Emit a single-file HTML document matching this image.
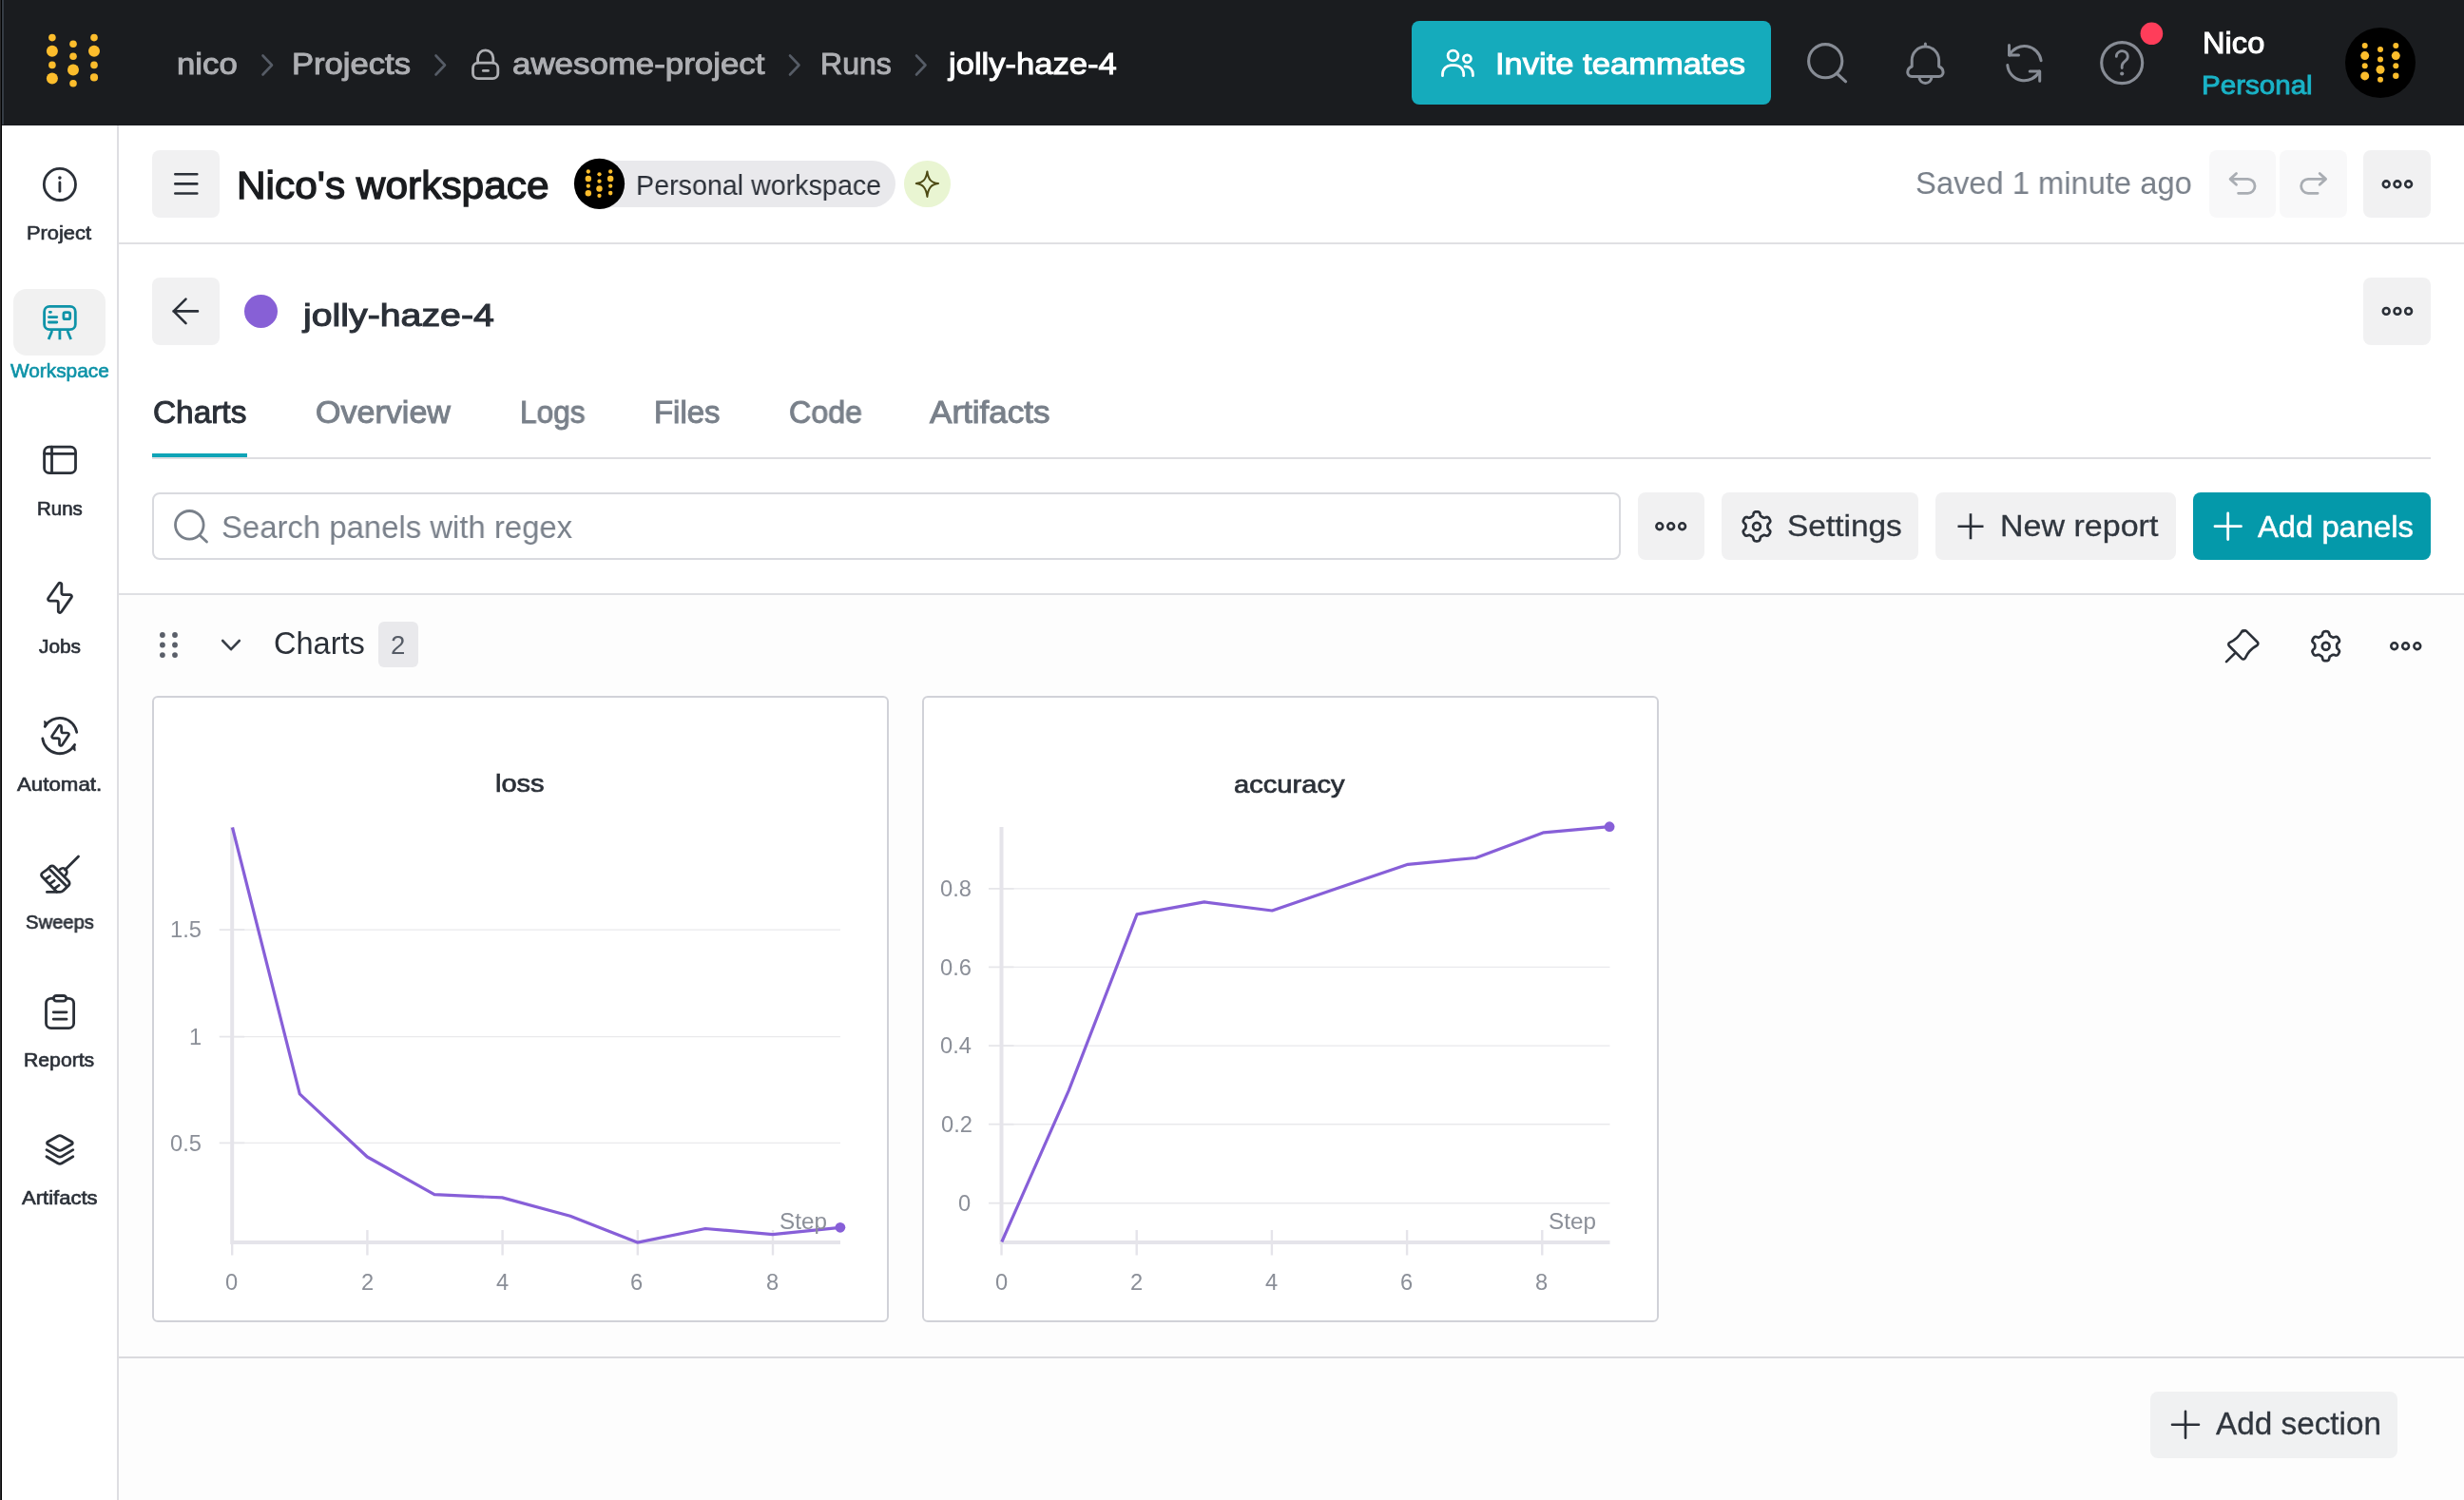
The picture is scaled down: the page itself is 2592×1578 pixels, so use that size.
<!DOCTYPE html>
<html lang="en">
<head>
<meta charset="utf-8">
<title>jolly-haze-4 | awesome-project – Weights &amp; Biases</title>
<style>
*{box-sizing:border-box;margin:0;padding:0}
html,body{width:2592px;height:1578px;overflow:hidden;background:#fff}
body{position:relative;font-family:"Liberation Sans",sans-serif;-webkit-font-smoothing:antialiased}
.a{position:absolute}
.t{position:absolute;white-space:nowrap;line-height:1;transform-origin:0 0;display:block;will-change:transform}
svg{position:absolute;overflow:visible}
.btn{position:absolute;background:#f1f1f2;border-radius:8px}
.ln{fill:none;stroke-linecap:round;stroke-linejoin:round}
</style>
</head>
<body>
<!-- ===== base layout ===== -->
<div class="a" style="left:0;top:0;width:2592px;height:132px;background:#1a1c1f"></div>
<div class="a" style="left:2px;top:0;width:2px;height:131px;background:#353c44"></div>
<div class="a" style="left:0;top:0;width:2px;height:1578px;background:#000"></div>
<div class="a" style="left:0;top:0;width:1px;height:1578px;background:#2b2b2d"></div>
<!-- sidebar border -->
<div class="a" style="left:123px;top:132px;width:2px;height:1446px;background:#dedee2"></div>
<!-- workspace header bottom border -->
<div class="a" style="left:125px;top:255px;width:2467px;height:2px;background:#e0e0e3"></div>
<!-- gray section area -->
<div class="a" style="left:125px;top:624px;width:2467px;height:954px;background:#fdfdfd"></div>
<div class="a" style="left:125px;top:624px;width:2467px;height:2px;background:#dfe0e4"></div>
<div class="a" style="left:125px;top:1427px;width:2467px;height:2px;background:#dadade"></div>

<!-- ===== NAV ===== -->
<svg width="2592" height="132" style="left:0;top:0" viewBox="0 0 2592 132">
<!-- logo -->
<g fill="#fcbd2c">
<circle cx="54.9" cy="39.6" r="3.8"/><circle cx="54.9" cy="53.8" r="6"/><circle cx="54.9" cy="68.4" r="3.8"/><circle cx="54.9" cy="82.6" r="6"/>
<circle cx="77" cy="46.3" r="3.8"/><circle cx="77" cy="59.2" r="3.8"/><circle cx="77" cy="73.4" r="6"/><circle cx="77" cy="87.7" r="3.8"/>
<circle cx="99" cy="39.6" r="3.8"/><circle cx="99" cy="53.8" r="6"/><circle cx="99" cy="68.4" r="3.8"/><circle cx="99" cy="81.4" r="4.1"/>
</g>
<!-- breadcrumb chevrons -->
<g class="ln" stroke="#565c66" stroke-width="2.6">
<path d="M276.5 58.5l9.5 10-9.5 10"/><path d="M458.5 58.5l9.5 10-9.5 10"/><path d="M831 58.5l9.5 10-9.5 10"/><path d="M964 58.5l9.5 10-9.5 10"/>
</g>
<!-- lock -->
<g class="ln" stroke="#aeafb3" stroke-width="2.8">
<rect x="497.5" y="66.2" width="26.3" height="16.5" rx="5.5"/>
<path d="M502.6 66V61a8.1 8.1 0 0 1 16.2 0v5"/>
<path d="M508.3 74.4h5.2"/>
</g>
<!-- invite button -->
<rect x="1485" y="22" width="378" height="88" rx="8" fill="#15abbc"/>
<g class="ln" stroke="#fff" stroke-width="2.8" stroke-linecap="butt">
<circle cx="1528.5" cy="58.5" r="5.4"/>
<path d="M1517.5 79.7V78a9.4 9.4 0 0 1 9.4-9.4h3.4a9.4 9.4 0 0 1 9.4 9.4v1.7"/>
<circle cx="1543.4" cy="61.8" r="4"/>
<path d="M1541 70h1.4a7 8 0 0 1 7 8v1.7"/>
</g>
<!-- search -->
<g class="ln" stroke="#878c95" stroke-width="3.1">
<circle cx="1920.2" cy="64.2" r="17.6"/><path d="M1933 78l8.6 7.8"/>
</g>
<!-- bell -->
<g class="ln" stroke="#878c95" stroke-width="3">
<path d="M2025.400 46v2.600"/>
<path d="M2011.2 70V63.3a14.2 14.2 0 0 1 28.4 0V70c2.5 1 4.5 3 4.5 6a4.5 4.5 0 0 1-4.5 4.5H2011.2a4.500 4.500 0 0 1-4.500-4.500c0-3 2-5 4.500-6z"/>
<path d="M2019 81.500a6.400 6 0 0 0 12.800 0"/>
</g>
<!-- refresh -->
<g class="ln" stroke="#878c95" stroke-width="3" stroke-linecap="butt" stroke-linejoin="miter">
<path d="M2113.5 47.500V58h10"/>
<path d="M2113.800 58A17.800 17.800 0 0 1 2147.100 63.700"/>
<path d="M2135.200 75h10.500v10.300"/>
<path d="M2145.400 75A17.800 17.800 0 0 1 2111.800 68.600"/>
</g>
<!-- help -->
<g class="ln" stroke="#878c95" stroke-width="3.1">
<circle cx="2232.200" cy="66.100" r="21.500"/>
<path d="M2226.300 59.400a6 5.600 0 1 1 9.600 4.400c-2.300 1.800-3.700 3-3.700 5.400v2.300" stroke-width="2.800"/>
</g>
<circle cx="2232.200" cy="77.500" r="2.100" fill="#878c95"/>
<circle cx="2263.400" cy="35.300" r="11.800" fill="#ff3d5a"/>
<!-- avatar -->
<circle cx="2504" cy="66" r="37" fill="#000"/>
<g transform="translate(2504 66)" fill="#fcbd2c"><circle cx="-16.3" cy="-17.9" r="3"/><circle cx="-16.3" cy="-7.4" r="4.5"/><circle cx="-16.3" cy="3.3" r="3"/><circle cx="-16.3" cy="13.9" r="4.5"/>
<circle cx="0" cy="-14" r="3"/><circle cx="0" cy="-3.6" r="3"/><circle cx="0" cy="7.3" r="4.5"/><circle cx="0" cy="17.7" r="3"/>
<circle cx="16.3" cy="-17.9" r="3"/><circle cx="16.3" cy="-7.4" r="4.5"/><circle cx="16.3" cy="3.3" r="3"/><circle cx="16.3" cy="13.7" r="3.2"/></g>
</svg>

<!-- ===== SIDEBAR ===== -->
<div class="a" style="left:14px;top:304px;width:97px;height:70px;background:#f1f1f1;border-radius:14px"></div>
<svg width="124" height="1446" style="left:0;top:132px" viewBox="0 132 124 1446">
<g class="ln" stroke="#2b3038" stroke-width="2.8">
<!-- project (info) -->
<circle cx="62.9" cy="193.9" r="16.6"/>
<path d="M62.9 191.900v9.400"/>
<!-- runs -->
<rect x="46.600" y="470.100" width="32.900" height="27.500" rx="5.200"/>
<path d="M54.500 470.100v27.500M46.600 477.300h32.900"/>
<!-- jobs bolt -->
<path d="M64.800 615.200V623.600a2 2 0 0 0 2 2H73.700a1.800 1.800 0 0 1 1.500 2.800L64.700 643.500a1.800 1.800 0 0 1-3.400-1V634.100a2 2 0 0 0-2-2H52.300a1.800 1.800 0 0 1-1.500-2.800L61.400 614.200a1.800 1.800 0 0 1 3.400 1z"/>
<!-- automations -->
<path d="M47.300 764.300A18.100 18.100 0 0 1 80.700 770.300"/>
<path d="M78.600 783.400A18.100 18.100 0 0 1 44.800 776.900"/>
<path d="M64.600 764.800v4.200a2 2 0 0 0 2 2h4.300a1.600 1.600 0 0 1 1.300 2.500l-6.800 10.300a1.600 1.600 0 0 1-2.900-0.900v-4.300a2 2 0 0 0-2-2h-4.300a1.600 1.600 0 0 1-1.300-2.500l6.800-10.200a1.600 1.600 0 0 1 2.900 0.900z" stroke-width="2.700"/>
<!-- sweeps -->
<path d="M82.500 901.100L68.500 914.900"/>
<path d="M63.300 914.500a3.400 3.400 0 0 1 5.700 6"/>
<path d="M52.800 911.700a3 3 0 0 1 4.200 0L72.200 926.900a3.200 3.200 0 0 1 0 4.500L66.500 937a4.800 4.800 0 0 1-3.400 1.400H49.400"/><path d="M59.800 938.200L44.300 922.300a2.700 2.700 0 0 1 0.500-4.200C48 916.200 50.300 914.300 52.900 911.600"/>
<path d="M52.700 915l16.800 16.700"/>
<path d="M48.300 924.600l4.200-2.900M53 929.300l4.200-2.900M57.900 934.400l4.200-3.200" stroke-width="2.700"/>
<!-- reports -->
<rect x="48.500" y="1050.300" width="29.100" height="31.300" rx="5.200"/>
<rect x="56.400" y="1047.500" width="13.300" height="5.600" rx="2.800" fill="#fff"/>
<path d="M56.200 1064.800h13.800M56.200 1072.200h13.800"/>
<!-- artifacts -->
<path d="M60.800 1195.200a4.200 4.200 0 0 1 4.200 0l10.600 6.100a1.400 1.400 0 0 1 0 2.400l-10.600 6.100a4.200 4.200 0 0 1-4.200 0l-10.600-6.100a1.400 1.400 0 0 1 0-2.400z"/>
<path d="M49 1209.600l11.800 7a4.200 4.200 0 0 0 4.200 0l11.800-7"/>
<path d="M49 1216.800l11.800 7a4.200 4.200 0 0 0 4.200 0l11.800-7"/>
</g>
<circle cx="62.900" cy="187.100" r="1.800" fill="#2b3038"/>
<path d="M46.900 758.800l0.500 5.900 2.400-3.300z" fill="#2b3038" stroke="#2b3038" stroke-width="1.500" stroke-linejoin="round"/>
<path d="M78.900 789.400l-0.500-5.900-2.400 3.300z" fill="#2b3038" stroke="#2b3038" stroke-width="1.500" stroke-linejoin="round"/>
<!-- workspace (active, teal) -->
<g class="ln" stroke="#0e93a8" stroke-width="2.800">
<rect x="46.600" y="322.400" width="32.700" height="24.300" rx="5.500"/>
<path d="M52.300 328.300h1.200M51.400 333.600h8.400M51.400 339h8.400"/>
<rect x="66.900" y="328.700" width="6.800" height="7" rx="1.800"/>
<path d="M54.800 348l-3.700 9M62.900 348v9.300M70.900 348l3.700 9" stroke-linecap="butt"/>
</g>
</svg>

<!-- ===== WORKSPACE HEADER ===== -->
<div class="btn" style="left:160px;top:158px;width:71px;height:71px"></div>
<div class="a" style="left:630px;top:169px;width:312px;height:49px;background:#e9e9ec;border-radius:0 24.500px 24.500px 0"></div>
<div class="a" style="left:951px;top:169px;width:48.500px;height:48.500px;background:#e9f5d2;border-radius:50%"></div>
<div class="btn" style="left:2324px;top:158px;width:70px;height:71px;background:#f8f8f9"></div>
<div class="btn" style="left:2398px;top:158px;width:71px;height:71px;background:#f8f8f9"></div>
<div class="btn" style="left:2486px;top:158px;width:71px;height:71px"></div>
<!-- run header -->
<div class="btn" style="left:160px;top:292px;width:71px;height:71px"></div>
<div class="btn" style="left:2486px;top:292px;width:71px;height:71px"></div>
<div class="a" style="left:257px;top:310px;width:35px;height:35px;background:#8760d6;border-radius:50%"></div>
<!-- tabs -->
<div class="a" style="left:160px;top:481px;width:2397px;height:2px;background:#dedee2"></div>
<div class="a" style="left:160px;top:477px;width:100px;height:4px;background:#10a4b7"></div>
<svg width="2467" height="360" style="left:125px;top:132px" viewBox="125 132 2467 360">
<g class="ln" stroke="#2b3038" stroke-width="2.600">
<!-- hamburger -->
<path d="M184.300 183.300h23M184.300 193.400h23M184.300 203.500h23"/>
<!-- back arrow -->
<path d="M208 327.400h-25.500M195.500 314.600l-12.800 12.800 12.800 12.800"/>
<!-- more dots (workspace header) -->
<circle cx="2510.200" cy="193.800" r="3.400"/><circle cx="2521.900" cy="193.800" r="3.400"/><circle cx="2533.600" cy="193.800" r="3.400"/>
<!-- more dots (run header) -->
<circle cx="2510.200" cy="327.400" r="3.400"/><circle cx="2521.900" cy="327.400" r="3.400"/><circle cx="2533.600" cy="327.400" r="3.400"/>
</g>
<!-- undo / redo -->
<g class="ln" stroke="#a9adb3" stroke-width="2.800">
<path d="M2352.500 182.500l-6.400 5.900 6.400 5.900M2346.300 188.400h18.300a7.450 7.450 0 0 1 0 14.900h-10"/>
<path d="M2440.200 182.500l6.400 5.900-6.400 5.900M2446.400 188.400h-18.300a7.450 7.450 0 0 0 0 14.900h10"/>
</g>
<!-- avatar -->
<circle cx="630.500" cy="193.300" r="26.600" fill="#000"/>
<g transform="translate(630.500 193.300) scale(0.716)" fill="#fcbd2c"><circle cx="-16.3" cy="-17.9" r="3"/><circle cx="-16.3" cy="-7.4" r="4.5"/><circle cx="-16.3" cy="3.3" r="3"/><circle cx="-16.3" cy="13.9" r="4.5"/>
<circle cx="0" cy="-14" r="3"/><circle cx="0" cy="-3.6" r="3"/><circle cx="0" cy="7.3" r="4.5"/><circle cx="0" cy="17.7" r="3"/>
<circle cx="16.3" cy="-17.9" r="3"/><circle cx="16.3" cy="-7.4" r="4.5"/><circle cx="16.3" cy="3.3" r="3"/><circle cx="16.3" cy="13.7" r="3.2"/></g>
<!-- star -->
<path class="ln" d="M975.400 180.400C976.400 189 979.600 192.100 987 193.100 979.600 194.200 976.400 197.300 975.400 206.900 974.200 197.300 971 194.200 963.800 193.100 971 192.100 974.200 189 975.400 180.400z" stroke="#4d4a14" stroke-width="2"/>
</svg>

<!--TOOLBAR--><!-- ===== TOOLBAR ===== -->
<div class="a" style="left:160px;top:518px;width:1545px;height:71px;border:2px solid #d9dadf;border-radius:8px;background:#fff"></div>
<div class="btn" style="left:1723px;top:518px;width:70px;height:71px"></div>
<div class="btn" style="left:1811px;top:518px;width:207px;height:71px"></div>
<div class="btn" style="left:2036px;top:518px;width:253px;height:71px"></div>
<div class="btn" style="left:2307px;top:518px;width:250px;height:71px;background:#0499aa"></div>
<svg width="2467" height="100" style="left:125px;top:505px" viewBox="125 505 2467 100">
<g class="ln" stroke="#79808a" stroke-width="2.800"><circle cx="199.300" cy="552.300" r="14.800"/><path d="M210.200 563.200l7.300 6.900"/></g>
<g class="ln" stroke="#2b3038" stroke-width="2.600">
<circle cx="1745.800" cy="553.700" r="3.400"/><circle cx="1757.700" cy="553.700" r="3.400"/><circle cx="1769.600" cy="553.700" r="3.400"/>
<path d="M2059.500 553.700h27M2073 540.200v27" stroke-linecap="butt"/>
</g>
<path class="ln" d="M2330 553.700h27.500M2343.700 540v27.500" stroke="#fff" stroke-width="2.800" stroke-linecap="butt"/>
<path class="ln" d="M1859.50 553.80L1859.50 553.40L1859.49 553.00L1859.50 552.59L1859.54 552.18L1859.68 551.74L1860.02 551.25L1860.65 550.65L1861.42 549.95L1861.99 549.25L1862.23 548.62L1862.23 548.05L1862.10 547.52L1861.91 547.02L1861.68 546.53L1861.42 546.05L1861.14 545.59L1860.83 545.15L1860.49 544.73L1860.09 544.35L1859.60 544.07L1858.93 543.96L1858.04 544.10L1857.06 544.42L1856.22 544.67L1855.62 544.72L1855.18 544.62L1854.80 544.44L1854.44 544.25L1854.10 544.04L1853.75 543.84L1853.40 543.64L1853.05 543.44L1852.70 543.24L1852.37 542.99L1852.06 542.66L1851.80 542.11L1851.59 541.27L1851.38 540.25L1851.06 539.41L1850.63 538.89L1850.14 538.60L1849.61 538.45L1849.08 538.36L1848.54 538.31L1848.00 538.30L1847.46 538.31L1846.92 538.36L1846.39 538.45L1845.86 538.60L1845.37 538.89L1844.94 539.41L1844.62 540.25L1844.41 541.27L1844.20 542.11L1843.94 542.66L1843.63 542.99L1843.30 543.24L1842.95 543.44L1842.60 543.64L1842.25 543.84L1841.90 544.04L1841.56 544.25L1841.20 544.44L1840.82 544.62L1840.38 544.72L1839.78 544.67L1838.94 544.42L1837.96 544.10L1837.07 543.96L1836.40 544.07L1835.91 544.35L1835.51 544.73L1835.17 545.15L1834.86 545.59L1834.58 546.05L1834.32 546.53L1834.09 547.02L1833.90 547.52L1833.77 548.05L1833.77 548.62L1834.01 549.25L1834.58 549.95L1835.35 550.65L1835.98 551.25L1836.32 551.74L1836.46 552.18L1836.50 552.59L1836.51 553.00L1836.50 553.40L1836.50 553.80L1836.50 554.20L1836.51 554.60L1836.50 555.01L1836.46 555.42L1836.32 555.86L1835.98 556.35L1835.35 556.95L1834.58 557.65L1834.01 558.35L1833.77 558.98L1833.77 559.55L1833.90 560.08L1834.09 560.58L1834.32 561.07L1834.58 561.55L1834.86 562.01L1835.17 562.45L1835.51 562.87L1835.91 563.25L1836.40 563.53L1837.07 563.64L1837.96 563.50L1838.94 563.18L1839.78 562.93L1840.38 562.88L1840.82 562.98L1841.20 563.16L1841.56 563.35L1841.90 563.56L1842.25 563.76L1842.60 563.96L1842.95 564.16L1843.30 564.36L1843.63 564.61L1843.94 564.94L1844.20 565.49L1844.41 566.33L1844.62 567.35L1844.94 568.19L1845.37 568.71L1845.86 569.00L1846.39 569.15L1846.92 569.24L1847.46 569.29L1848.00 569.30L1848.54 569.29L1849.08 569.24L1849.61 569.15L1850.14 569.00L1850.63 568.71L1851.06 568.19L1851.38 567.35L1851.59 566.33L1851.80 565.49L1852.06 564.94L1852.37 564.61L1852.70 564.36L1853.05 564.16L1853.40 563.96L1853.75 563.76L1854.10 563.56L1854.44 563.35L1854.80 563.16L1855.18 562.98L1855.62 562.88L1856.22 562.93L1857.06 563.18L1858.04 563.50L1858.93 563.64L1859.60 563.53L1860.09 563.25L1860.49 562.87L1860.83 562.45L1861.14 562.01L1861.42 561.55L1861.68 561.07L1861.91 560.58L1862.10 560.08L1862.23 559.55L1862.23 558.98L1861.99 558.35L1861.42 557.65L1860.65 556.95L1860.02 556.35L1859.68 555.86L1859.54 555.42L1859.50 555.01L1859.49 554.60L1859.50 554.20z" stroke="#2b3038" stroke-width="2.7"/><circle class="ln" cx="1848" cy="553.8" r="3.9" stroke="#2b3038" stroke-width="2.7"/>
</svg>
<!--/TOOLBAR-->
<!--SECTION--><!-- ===== SECTION HEADER ===== -->
<div class="a" style="left:398px;top:654px;width:42px;height:48px;background:#e9e9ec;border-radius:6px"></div>
<svg width="2467" height="100" style="left:125px;top:630px" viewBox="125 630 2467 100">
<g fill="#5a5f69"><circle cx="170.900" cy="668" r="2.900"/><circle cx="184" cy="668" r="2.900"/><circle cx="170.900" cy="678.500" r="2.900"/><circle cx="184" cy="678.500" r="2.900"/><circle cx="170.900" cy="689.100" r="2.900"/><circle cx="184" cy="689.100" r="2.900"/></g>
<g class="ln" stroke="#2b3038" stroke-width="2.600">
<path d="M234.200 674l8.800 9.200 8.800-9.200" stroke="#3a4049"/>
<circle cx="2518.700" cy="679.700" r="3.400"/><circle cx="2530.600" cy="679.700" r="3.400"/><circle cx="2542.800" cy="679.700" r="3.400"/>
<!-- pin -->
<path d="M2342 696.200l8.900-8.900"/>
<path d="M2360.200 664.200a2.200 2.200 0 0 1 3.100 0l11.400 11.300a2.200 2.200 0 0 1-0.500 3.500c-6 3.300-9.500 7-12.300 13.200a2.200 2.200 0 0 1-3.600 0.600l-13.300-13.300a2.200 2.200 0 0 1 0.600-3.600c6.200-2.800 9.900-6.300 13.200-12.300a2.200 2.200 0 0 1 1.400-0.400z"/>
</g>
<path class="ln" d="M2458.20 679.70L2458.20 679.30L2458.19 678.90L2458.20 678.49L2458.24 678.08L2458.38 677.64L2458.72 677.15L2459.35 676.55L2460.12 675.85L2460.69 675.15L2460.93 674.52L2460.93 673.95L2460.80 673.42L2460.61 672.92L2460.38 672.43L2460.12 671.95L2459.84 671.49L2459.53 671.05L2459.19 670.63L2458.79 670.25L2458.30 669.97L2457.63 669.86L2456.74 670.00L2455.76 670.32L2454.92 670.57L2454.32 670.62L2453.88 670.52L2453.50 670.34L2453.14 670.15L2452.80 669.94L2452.45 669.74L2452.10 669.54L2451.75 669.34L2451.40 669.14L2451.07 668.89L2450.76 668.56L2450.50 668.01L2450.29 667.17L2450.08 666.15L2449.76 665.31L2449.33 664.79L2448.84 664.50L2448.31 664.35L2447.78 664.26L2447.24 664.21L2446.70 664.20L2446.16 664.21L2445.62 664.26L2445.09 664.35L2444.56 664.50L2444.07 664.79L2443.64 665.31L2443.32 666.15L2443.11 667.17L2442.90 668.01L2442.64 668.56L2442.33 668.89L2442.00 669.14L2441.65 669.34L2441.30 669.54L2440.95 669.74L2440.60 669.94L2440.26 670.15L2439.90 670.34L2439.52 670.52L2439.08 670.62L2438.48 670.57L2437.64 670.32L2436.66 670.00L2435.77 669.86L2435.10 669.97L2434.61 670.25L2434.21 670.63L2433.87 671.05L2433.56 671.49L2433.28 671.95L2433.02 672.43L2432.79 672.92L2432.60 673.42L2432.47 673.95L2432.47 674.52L2432.71 675.15L2433.28 675.85L2434.05 676.55L2434.68 677.15L2435.02 677.64L2435.16 678.08L2435.20 678.49L2435.21 678.90L2435.20 679.30L2435.20 679.70L2435.20 680.10L2435.21 680.50L2435.20 680.91L2435.16 681.32L2435.02 681.76L2434.68 682.25L2434.05 682.85L2433.28 683.55L2432.71 684.25L2432.47 684.88L2432.47 685.45L2432.60 685.98L2432.79 686.48L2433.02 686.97L2433.28 687.45L2433.56 687.91L2433.87 688.35L2434.21 688.77L2434.61 689.15L2435.10 689.43L2435.77 689.54L2436.66 689.40L2437.64 689.08L2438.48 688.83L2439.08 688.78L2439.52 688.88L2439.90 689.06L2440.26 689.25L2440.60 689.46L2440.95 689.66L2441.30 689.86L2441.65 690.06L2442.00 690.26L2442.33 690.51L2442.64 690.84L2442.90 691.39L2443.11 692.23L2443.32 693.25L2443.64 694.09L2444.07 694.61L2444.56 694.90L2445.09 695.05L2445.62 695.14L2446.16 695.19L2446.70 695.20L2447.24 695.19L2447.78 695.14L2448.31 695.05L2448.84 694.90L2449.33 694.61L2449.76 694.09L2450.08 693.25L2450.29 692.23L2450.50 691.39L2450.76 690.84L2451.07 690.51L2451.40 690.26L2451.75 690.06L2452.10 689.86L2452.45 689.66L2452.80 689.46L2453.14 689.25L2453.50 689.06L2453.88 688.88L2454.32 688.78L2454.92 688.83L2455.76 689.08L2456.74 689.40L2457.63 689.54L2458.30 689.43L2458.79 689.15L2459.19 688.77L2459.53 688.35L2459.84 687.91L2460.12 687.45L2460.38 686.97L2460.61 686.48L2460.80 685.98L2460.93 685.45L2460.93 684.88L2460.69 684.25L2460.12 683.55L2459.35 682.85L2458.72 682.25L2458.38 681.76L2458.24 681.32L2458.20 680.91L2458.19 680.50L2458.20 680.10z" stroke="#2b3038" stroke-width="2.7"/><circle class="ln" cx="2446.7" cy="679.7" r="3.9" stroke="#2b3038" stroke-width="2.7"/>
</svg>
<!-- add section button -->
<div class="btn" style="left:2262px;top:1464px;width:260px;height:70px;background:#f0f1f2"></div>
<svg width="60" height="60" style="left:2270px;top:1470px" viewBox="2270 1470 60 60">
<path class="ln" d="M2285 1498.800h28M2299 1484.800v28" stroke="#2b3038" stroke-width="2.600" stroke-linecap="butt"/>
</svg>
<!--/SECTION-->
<!--CHARTS--><!-- ===== CHARTS ===== -->
<div class="a" style="left:160px;top:732px;width:775px;height:659px;border:2px solid #d1d2d8;border-radius:6px;background:#fff"></div>
<svg width="775" height="659" style="left:160px;top:732px" viewBox="160 732 775 659">
<path d="M244.2 978.1H884" stroke="#e9e9ec" stroke-width="1.400" fill="none"/><path d="M230.7 978.1H257.2" stroke="#e6e6ea" stroke-width="1.800" fill="none"/>
<path d="M244.2 1090.6H884" stroke="#e9e9ec" stroke-width="1.400" fill="none"/><path d="M230.7 1090.6H257.2" stroke="#e6e6ea" stroke-width="1.800" fill="none"/>
<path d="M244.2 1202.4H884" stroke="#e9e9ec" stroke-width="1.400" fill="none"/><path d="M230.7 1202.4H257.2" stroke="#e6e6ea" stroke-width="1.800" fill="none"/>
<path d="M244.2 870V1309M242.2 1307H884" stroke="#e5e4ea" stroke-width="4" fill="none"/>
<path d="M244.2 1294V1320.500" stroke="#e5e4ea" stroke-width="2.400" fill="none"/>
<path d="M386.4 1294V1320.500" stroke="#e5e4ea" stroke-width="2.400" fill="none"/>
<path d="M528.6 1294V1320.500" stroke="#e5e4ea" stroke-width="2.400" fill="none"/>
<path d="M670.8 1294V1320.500" stroke="#e5e4ea" stroke-width="2.400" fill="none"/>
<path d="M813.0 1294V1320.500" stroke="#e5e4ea" stroke-width="2.400" fill="none"/>
<polyline points="244.5,870.5 315.3,1150.8 386.3,1217.0 457.0,1256.7 528.3,1259.9 599.8,1279.3 670.5,1307.1 742.0,1292.5 812.8,1298.6 883.9,1291.3" fill="none" stroke="#875fd8" stroke-width="3.200" stroke-linejoin="round" stroke-linecap="butt"/>
<circle cx="883.9" cy="1291.3" r="5.400" fill="#875fd8"/>
</svg>
<div class="a" style="left:970px;top:732px;width:775px;height:659px;border:2px solid #d1d2d8;border-radius:6px;background:#fff"></div>
<svg width="775" height="659" style="left:970px;top:732px" viewBox="970 732 775 659">
<path d="M1053.5 934.9H1693.5" stroke="#e9e9ec" stroke-width="1.400" fill="none"/><path d="M1040.0 934.9H1066.5" stroke="#e6e6ea" stroke-width="1.800" fill="none"/>
<path d="M1053.5 1017.4H1693.5" stroke="#e9e9ec" stroke-width="1.400" fill="none"/><path d="M1040.0 1017.4H1066.5" stroke="#e6e6ea" stroke-width="1.800" fill="none"/>
<path d="M1053.5 1100.1H1693.5" stroke="#e9e9ec" stroke-width="1.400" fill="none"/><path d="M1040.0 1100.1H1066.5" stroke="#e6e6ea" stroke-width="1.800" fill="none"/>
<path d="M1053.5 1182.7H1693.5" stroke="#e9e9ec" stroke-width="1.400" fill="none"/><path d="M1040.0 1182.7H1066.5" stroke="#e6e6ea" stroke-width="1.800" fill="none"/>
<path d="M1053.5 1265.7H1693.5" stroke="#e9e9ec" stroke-width="1.400" fill="none"/><path d="M1040.0 1265.7H1066.5" stroke="#e6e6ea" stroke-width="1.800" fill="none"/>
<path d="M1053.5 870V1309M1051.5 1307H1693.5" stroke="#e5e4ea" stroke-width="4" fill="none"/>
<path d="M1053.5 1294V1320.500" stroke="#e5e4ea" stroke-width="2.400" fill="none"/>
<path d="M1195.7 1294V1320.500" stroke="#e5e4ea" stroke-width="2.400" fill="none"/>
<path d="M1337.9 1294V1320.500" stroke="#e5e4ea" stroke-width="2.400" fill="none"/>
<path d="M1480.1 1294V1320.500" stroke="#e5e4ea" stroke-width="2.400" fill="none"/>
<path d="M1622.3 1294V1320.500" stroke="#e5e4ea" stroke-width="2.400" fill="none"/>
<polyline points="1053.8,1306.5 1124.3,1147.1 1196.0,961.9 1266.8,948.9 1338.2,958.0 1409.6,933.6 1481.1,909.3 1552.5,902.5 1624.0,875.8 1693.1,869.7" fill="none" stroke="#875fd8" stroke-width="3.200" stroke-linejoin="round" stroke-linecap="butt"/>
<circle cx="1693.1" cy="869.7" r="5.400" fill="#875fd8"/>
</svg><!--/CHARTS-->
<span class="t" style="left:186.29px;top:52.30px;font-size:31.40px;color:#aeafb3;transform:scaleX(1.1069);-webkit-text-stroke:1.0px #aeafb3;">nico</span>
<span class="t" style="left:307.29px;top:52.30px;font-size:31.40px;color:#aeafb3;transform:scaleX(1.1026);-webkit-text-stroke:1.0px #aeafb3;">Projects</span>
<span class="t" style="left:539.39px;top:52.30px;font-size:31.40px;color:#aeafb3;transform:scaleX(1.1105);-webkit-text-stroke:1.0px #aeafb3;">awesome-project</span>
<span class="t" style="left:863.46px;top:52.30px;font-size:31.40px;color:#aeafb3;transform:scaleX(1.0205);-webkit-text-stroke:1.0px #aeafb3;">Runs</span>
<span class="t" style="left:998.00px;top:52.30px;font-size:31.40px;color:#fff;transform:scaleX(1.1014);-webkit-text-stroke:1.0px #fff;">jolly-haze-4</span>
<span class="t" style="left:1573.32px;top:51.66px;font-size:31.69px;color:#fff;transform:scaleX(1.0897);-webkit-text-stroke:1.0px #fff;">Invite teammates</span>
<span class="t" style="left:2317.22px;top:30.30px;font-size:31.40px;color:#fff;transform:scaleX(1.0395);-webkit-text-stroke:1.0px #fff;">Nico</span>
<span class="t" style="left:2316.45px;top:77.07px;font-size:26.86px;color:#1ab3c7;transform:scaleX(1.1005);-webkit-text-stroke:0.9px #1ab3c7;">Personal</span>
<span class="t" style="left:248.52px;top:175.18px;font-size:40.64px;color:#1a1c1f;transform:scaleX(1.0435);-webkit-text-stroke:1.3px #1a1c1f;">Nico's workspace</span>
<span class="t" style="left:668.90px;top:179.88px;font-size:30.23px;color:#2b3038;transform:scaleX(0.9484);">Personal workspace</span>
<span class="t" style="left:2014.90px;top:176.58px;font-size:32.85px;color:#79808a;transform:scaleX(0.9957);">Saved 1 minute ago</span>
<span class="t" style="left:318.90px;top:314.48px;font-size:34.04px;color:#2b3038;transform:scaleX(1.1546);-webkit-text-stroke:1.1px #2b3038;">jolly-haze-4</span>
<span class="t" style="left:160.87px;top:418.29px;font-size:32.41px;color:#2b3038;transform:scaleX(1.0303);-webkit-text-stroke:1.0px #2b3038;">Charts</span>
<span class="t" style="left:331.75px;top:418.29px;font-size:32.41px;color:#79808a;transform:scaleX(1.0509);-webkit-text-stroke:1.0px #79808a;">Overview</span>
<span class="t" style="left:547.05px;top:418.29px;font-size:32.41px;color:#79808a;transform:scaleX(0.9770);-webkit-text-stroke:1.0px #79808a;">Logs</span>
<span class="t" style="left:687.67px;top:418.29px;font-size:32.41px;color:#79808a;transform:scaleX(1.0148);-webkit-text-stroke:1.0px #79808a;">Files</span>
<span class="t" style="left:829.51px;top:418.29px;font-size:32.41px;color:#79808a;transform:scaleX(0.9927);-webkit-text-stroke:1.0px #79808a;">Code</span>
<span class="t" style="left:978.20px;top:418.29px;font-size:32.41px;color:#79808a;transform:scaleX(1.0818);-webkit-text-stroke:1.0px #79808a;">Artifacts</span>
<span class="t" style="left:233.42px;top:538.28px;font-size:33.43px;color:#79808a;transform:scaleX(0.9835);">Search panels with regex</span>
<span class="t" style="left:1880.21px;top:537.40px;font-size:32.21px;color:#30363e;transform:scaleX(1.0384);-webkit-text-stroke:0.3px #30363e;">Settings</span>
<span class="t" style="left:2104.44px;top:537.40px;font-size:32.21px;color:#30363e;transform:scaleX(1.0561);-webkit-text-stroke:0.3px #30363e;">New report</span>
<span class="t" style="left:2375.15px;top:537.51px;font-size:31.98px;color:#fff;transform:scaleX(1.0246);-webkit-text-stroke:0.5px #fff;">Add panels</span>
<span class="t" style="left:288.20px;top:661.22px;font-size:32.56px;color:#2b3038;transform:scaleX(0.9970);">Charts</span>
<span class="t" style="left:411.22px;top:665.19px;font-size:27.62px;color:#565c66;transform:scaleX(0.9846);">2</span>
<span class="t" style="left:521.04px;top:811.39px;font-size:26.22px;color:#2b3038;transform:scaleX(1.1073);-webkit-text-stroke:0.7px #2b3038;">loss</span>
<span class="t" style="left:1297.54px;top:812.39px;font-size:26.22px;color:#2b3038;transform:scaleX(1.1116);-webkit-text-stroke:0.7px #2b3038;">accuracy</span>
<span class="t" style="left:2330.55px;top:1482.25px;font-size:32.50px;color:#30363e;transform:scaleX(1.0247);-webkit-text-stroke:0.3px #30363e;">Add section</span>
<span class="t" style="left:27.96px;top:234.77px;font-size:20.47px;color:#2b3038;transform:scaleX(1.0679);-webkit-text-stroke:0.65px #2b3038;">Project</span>
<span class="t" style="left:10.92px;top:379.77px;font-size:20.47px;color:#0e93a8;transform:scaleX(1.0177);-webkit-text-stroke:0.65px #0e93a8;">Workspace</span>
<span class="t" style="left:38.64px;top:524.77px;font-size:20.47px;color:#2b3038;transform:scaleX(0.9899);-webkit-text-stroke:0.65px #2b3038;">Runs</span>
<span class="t" style="left:41.03px;top:669.77px;font-size:20.47px;color:#2b3038;transform:scaleX(1.0180);-webkit-text-stroke:0.65px #2b3038;">Jobs</span>
<span class="t" style="left:18.32px;top:814.77px;font-size:20.47px;color:#2b3038;transform:scaleX(1.0896);-webkit-text-stroke:0.65px #2b3038;">Automat.</span>
<span class="t" style="left:26.93px;top:959.77px;font-size:20.47px;color:#2b3038;transform:scaleX(0.9878);-webkit-text-stroke:0.65px #2b3038;">Sweeps</span>
<span class="t" style="left:25.09px;top:1104.77px;font-size:20.47px;color:#2b3038;transform:scaleX(1.0364);-webkit-text-stroke:0.65px #2b3038;">Reports</span>
<span class="t" style="left:22.62px;top:1249.77px;font-size:20.47px;color:#2b3038;transform:scaleX(1.0774);-webkit-text-stroke:0.65px #2b3038;">Artifacts</span>
<span class="t" style="left:179.04px;top:966.65px;font-size:23.69px;color:#8b8f98;transform:scaleX(1.0000);">1.5</span>
<span class="t" style="left:198.80px;top:1079.65px;font-size:23.69px;color:#8b8f98;transform:scaleX(1.0000);">1</span>
<span class="t" style="left:179.04px;top:1191.65px;font-size:23.69px;color:#8b8f98;transform:scaleX(1.0000);">0.5</span>
<span class="t" style="left:237.20px;top:1337.65px;font-size:23.69px;color:#8b8f98;transform:scaleX(1.0000);">0</span>
<span class="t" style="left:379.70px;top:1337.65px;font-size:23.69px;color:#8b8f98;transform:scaleX(1.0000);">2</span>
<span class="t" style="left:521.60px;top:1337.65px;font-size:23.69px;color:#8b8f98;transform:scaleX(1.0000);">4</span>
<span class="t" style="left:663.30px;top:1337.65px;font-size:23.69px;color:#8b8f98;transform:scaleX(1.0000);">6</span>
<span class="t" style="left:805.60px;top:1337.65px;font-size:23.69px;color:#8b8f98;transform:scaleX(1.0000);">8</span>
<span class="t" style="left:988.54px;top:923.65px;font-size:23.69px;color:#8b8f98;transform:scaleX(1.0000);">0.8</span>
<span class="t" style="left:988.54px;top:1006.65px;font-size:23.69px;color:#8b8f98;transform:scaleX(1.0000);">0.6</span>
<span class="t" style="left:988.54px;top:1088.65px;font-size:23.69px;color:#8b8f98;transform:scaleX(1.0000);">0.4</span>
<span class="t" style="left:989.54px;top:1171.65px;font-size:23.69px;color:#8b8f98;transform:scaleX(1.0000);">0.2</span>
<span class="t" style="left:1008.30px;top:1254.65px;font-size:23.69px;color:#8b8f98;transform:scaleX(1.0000);">0</span>
<span class="t" style="left:1047.00px;top:1337.65px;font-size:23.69px;color:#8b8f98;transform:scaleX(1.0000);">0</span>
<span class="t" style="left:1189.20px;top:1337.65px;font-size:23.69px;color:#8b8f98;transform:scaleX(1.0000);">2</span>
<span class="t" style="left:1331.40px;top:1337.65px;font-size:23.69px;color:#8b8f98;transform:scaleX(1.0000);">4</span>
<span class="t" style="left:1473.10px;top:1337.65px;font-size:23.69px;color:#8b8f98;transform:scaleX(1.0000);">6</span>
<span class="t" style="left:1615.30px;top:1337.65px;font-size:23.69px;color:#8b8f98;transform:scaleX(1.0000);">8</span>
<span class="t" style="left:820.08px;top:1273.65px;font-size:23.69px;color:#8b8f98;transform:scaleX(1.0241);">Step</span>
<span class="t" style="left:1629.48px;top:1273.65px;font-size:23.69px;color:#8b8f98;transform:scaleX(1.0241);">Step</span>
</body>
</html>
